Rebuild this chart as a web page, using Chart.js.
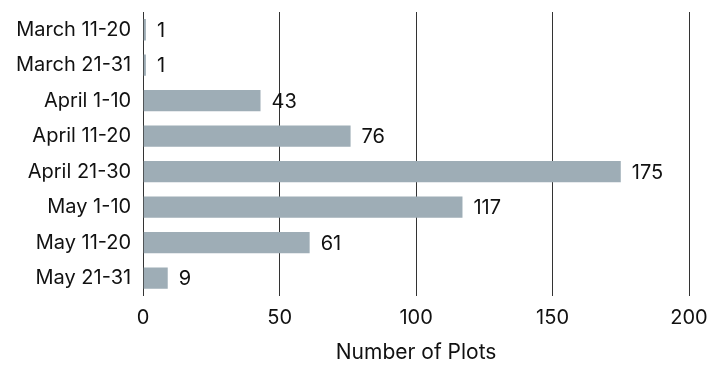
<!DOCTYPE html>
<html>
<head>
<meta charset="utf-8">
<script src="https://cdnjs.cloudflare.com/ajax/libs/Chart.js/4.4.1/chart.umd.min.js"></script>
<style>
  html,body{margin:0;padding:0;background:#fff;}
  #wrap{width:721px;height:367px;}
</style>
</head>
<body>
<div id="wrap"><canvas id="c"></canvas></div>
<script>
// Plots per ten-day period
const PERIODS = ['March 11-20','March 21-31','April 1-10','April 11-20','April 21-30','May 1-10','May 11-20','May 21-31'];
const PLOTS   = [1, 1, 43, 76, 175, 117, 61, 9];
const X_TICKS = [0, 50, 100, 150, 200];

const FONT = 'Inter, "Open Sans", sans-serif';

// value labels just past the end of each bar
const endLabels = {
  id:'endLabels',
  afterDraw(chart){
    const ctx = chart.ctx, meta = chart.getDatasetMeta(0);
    ctx.save();
    ctx.font = '20px ' + FONT;
    ctx.fillStyle = '#111';
    ctx.textBaseline = 'middle';
    meta.data.forEach((bar,i)=>{
      ctx.fillText(String(PLOTS[i]), bar.x + 11, bar.y + 1);
    });
    ctx.restore();
  }
};

new Chart(document.getElementById('c'),{
  type:'bar',
  data:{labels:PERIODS, datasets:[{
    data:PLOTS, backgroundColor:'#9eadb6', borderWidth:0,
    categoryPercentage:0.6, barPercentage:1
  }]},
  options:{
    indexAxis:'y', responsive:true, maintainAspectRatio:false, animation:false,
    layout:{padding:{top:12, right:32, bottom:2, left:4}},
    plugins:{legend:{display:false}, tooltip:{enabled:false}},
    scales:{
      x:{
        min:0, max:200, z:1,
        afterBuildTicks:s=>{ s.ticks = X_TICKS.map(v=>({value:v})); },
        grid:{color:'#333', lineWidth:1, drawTicks:false},
        border:{display:false},
        ticks:{color:'#111', padding:10, font:{family:FONT, size:20}},
        title:{display:true, text:'Number of Plots', color:'#111', font:{family:FONT, size:21}, padding:{top:0, bottom:0}}
      },
      y:{
        afterFit:s=>{ s.paddingTop = 0; s.paddingBottom = 0; },
        grid:{display:false, drawTicks:false},
        border:{display:false},
        ticks:{color:'#111', padding:12, font:{family:FONT, size:20}}
      }
    }
  },
  plugins:[endLabels]
});
</script>
</body>
</html>
